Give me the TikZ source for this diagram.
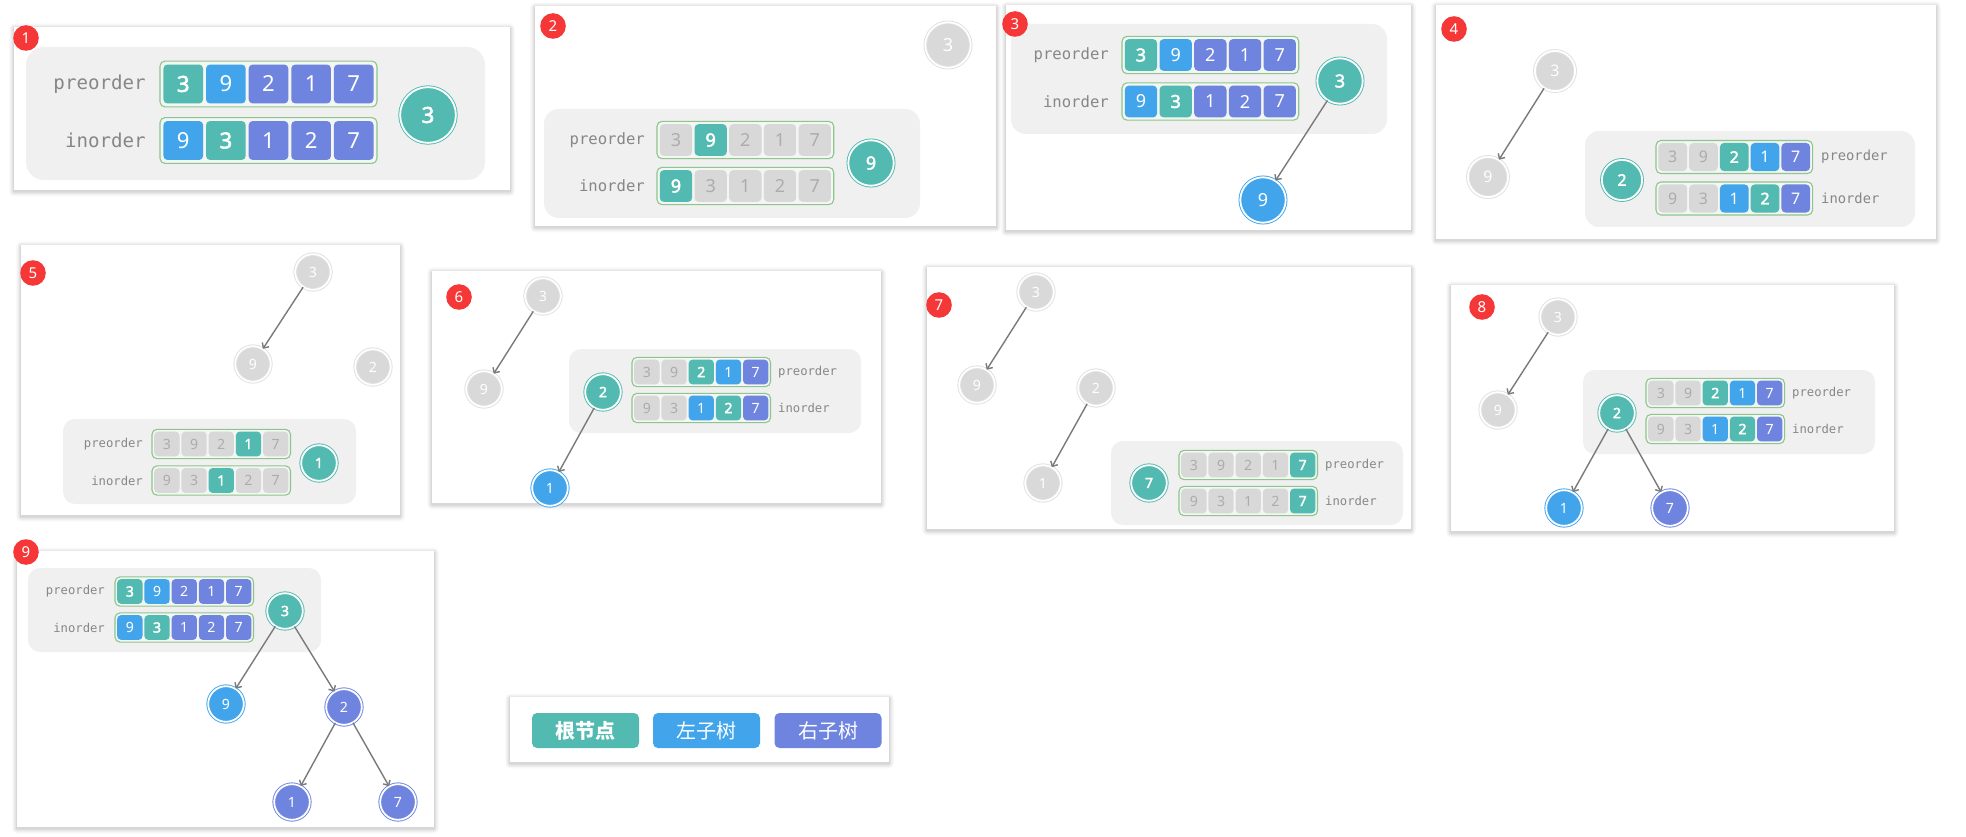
\documentclass[tikz,border=0pt]{standalone}
\usepackage{fontspec}
\setmainfont{Noto Sans}
\newfontfamily\nbf{Noto Sans}[FakeBold=2.5]
\newfontfamily\monof{DejaVu Sans Mono}
\newfontfamily\cjk{Noto Sans CJK SC}
\usetikzlibrary{arrows.meta}
\definecolor{cT}{RGB}{82,186,176}
\definecolor{cB}{RGB}{66,165,235}
\definecolor{cP}{RGB}{111,132,222}
\definecolor{cGc}{RGB}{216,216,216}
\definecolor{cGt}{RGB}{172,172,172}
\definecolor{cGn}{RGB}{217,217,217}
\definecolor{cGr}{RGB}{224,224,224}
\definecolor{cBg}{RGB}{240,240,240}
\definecolor{cGreen}{RGB}{140,198,140}
\definecolor{cBoxF}{RGB}{243,246,243}
\definecolor{cLbl}{RGB}{135,135,135}
\definecolor{cR}{RGB}{245,55,55}
\definecolor{cA}{RGB}{122,122,122}
\newcommand\numf{\fontsize{18}{18}\selectfont}
\newcommand\pnl[4]{%
 \foreach \d/\o in {5/0.02,4/0.025,3/0.03,2/0.04,1/0.05}{\fill[black,opacity=\o,rounded corners=\d pt] ({#1-\d},{#2-\d+1.5}) rectangle ({#3+\d},{#4+\d+1.5});}
 \fill[white] (#1,#2) rectangle (#3,#4);}
\newcommand\arr[5]{\begin{scope}[shift={(#2,#3)},scale=#4,transform shape]
 \node[abox] (#1) at (88.35,0) {};
 \foreach \st/\tx [count=\i] in {#5}{\node[\st] (#1-\i) at ({-15.75+34.7*\i},0) {\tx};}
 \end{scope}}
\newcommand\tn[6]{\begin{scope}[shift={(#2,#3)},scale=#4,transform shape]\node[#5] (#1) at (0,0) {#6};\end{scope}}
\newcommand\lb[6]{\begin{scope}[shift={(#2,#3)},scale=#4,transform shape]\node[lbl,anchor=#5] (#1) at (0,0) {#6};\end{scope}}
\begin{document}
\begin{tikzpicture}[x=1pt,y=-1pt,
 cellb/.style={rounded corners=4pt, minimum width=32.3pt, minimum height=31.7pt, inner sep=0pt, text=white, font=\numf},
 ct/.style={cellb, fill=cT, font=\nbf\numf},
 cb/.style={cellb, fill=cB},
 cp/.style={cellb, fill=cP},
 cg/.style={cellb, fill=cGc, text=cGt},
 abox/.style={draw=cGreen, line width=1.1pt, fill=cBoxF, rounded corners=5pt, minimum width=176.7pt, minimum height=37.3pt, inner sep=0pt},
 nd/.style={circle, inner sep=0pt, minimum size=45.4pt, line width=0.9pt, double distance=1.8pt, double=white, text=white, font=\numf},
 nt/.style={nd, fill=cT, draw=cT, font=\nbf\numf},
 nb/.style={nd, fill=cB, draw=cB},
 np/.style={nd, fill=cP, draw=cP},
 ng/.style={nd, fill=cGn, draw=cGr},
 lbl/.style={inner sep=0pt, text=cLbl, font=\monof\fontsize{15.6}{16}\selectfont},
 badge/.style={circle, fill=cR, text=white, minimum size=25.6pt, inner sep=0pt, font=\fontsize{15}{15}\selectfont},
 arw/.style={draw=cA, line width=1.4pt, -{Straight Barb[length=4pt,width=8pt]}},
 bgbox/.style={fill=cBg, rounded corners=#1},
 btn/.style={rounded corners=5pt, minimum width=107pt, minimum height=35pt, inner sep=0pt, text=white, font=\cjk\fontsize{20}{20}\selectfont}
]
\useasboundingbox (0,0) rectangle (1966,837);
% panel frames
\pnl{14}{27}{510}{190}
\pnl{535}{6}{996}{226}
\pnl{1006}{5}{1411}{230}
\pnl{1436}{5}{1936}{239}
\pnl{21}{245}{400}{515}
\pnl{432}{271}{881}{503}
\pnl{927}{267}{1411}{529}
\pnl{1451}{285}{1894}{531}
\pnl{17}{551}{434}{827}
\pnl{510}{697}{889}{762}

% ---------- panel 1
\fill[bgbox=18pt] (26,47) rectangle (485,180);
\lb{p1lp}{146}{84}{1.228}{east}{preorder}
\lb{p1li}{146}{140.5}{1.228}{east}{inorder}
\arr{p1a}{160}{84}{1.228}{ct/3,cb/9,cp/2,cp/1,cp/7}
\arr{p1b}{160}{140.5}{1.228}{cb/9,ct/3,cp/1,cp/2,cp/7}
\tn{p1n3}{428}{115}{1.228}{nt}{3}
\node[badge] (b1) at (26,38) {1};

% ---------- panel 2
\tn{p2n3}{948}{45}{1}{ng}{3}
\fill[bgbox=15pt] (544,109) rectangle (920,218);
\lb{p2lp}{645}{140}{1}{east}{preorder}
\lb{p2li}{645}{186}{1}{east}{inorder}
\arr{p2a}{657}{140}{1}{cg/3,ct/9,cg/2,cg/1,cg/7}
\arr{p2b}{657}{186}{1}{ct/9,cg/3,cg/1,cg/2,cg/7}
\tn{p2n9}{871}{163}{1}{nt}{9}
\node[badge] (b2) at (553,26) {2};

% ---------- panel 3
\fill[bgbox=15pt] (1011,24) rectangle (1387,134);
\lb{p3lp}{1109}{55}{1}{east}{preorder}
\lb{p3li}{1109}{101.5}{1}{east}{inorder}
\arr{p3a}{1122}{55}{1}{ct/3,cb/9,cp/2,cp/1,cp/7}
\arr{p3b}{1122}{101.5}{1}{cb/9,ct/3,cp/1,cp/2,cp/7}
\tn{p3n3}{1340}{81}{1}{nt}{3}
\tn{p3n9}{1263}{200}{1}{nb}{9}
\draw[arw] (p3n3) -- (p3n9);
\node[badge] (b3) at (1015,24) {3};

% ---------- panel 4
\tn{p4n3}{1555}{71}{0.886}{ng}{3}
\tn{p4n9}{1488}{177}{0.886}{ng}{9}
\draw[arw] (p4n3) -- (p4n9);
\fill[bgbox=14pt] (1585,131) rectangle (1915,227);
\tn{p4n2}{1622}{180}{0.886}{nt}{2}
\arr{p4a}{1656}{157}{0.886}{cg/3,cg/9,ct/2,cb/1,cp/7}
\arr{p4b}{1656}{198.5}{0.886}{cg/9,cg/3,cb/1,ct/2,cp/7}
\lb{p4lp}{1821}{157}{0.886}{west}{preorder}
\lb{p4li}{1821}{198.5}{0.886}{west}{inorder}
\node[badge] (b4) at (1454,29) {4};

% ---------- panel 5
\tn{p5n3}{313}{272}{0.784}{ng}{3}
\tn{p5n9}{253}{364}{0.784}{ng}{9}
\tn{p5n2}{373}{367}{0.784}{ng}{2}
\draw[arw] (p5n3) -- (p5n9);
\fill[bgbox=12pt] (63,419) rectangle (356,504);
\lb{p5lp}{143}{444}{0.784}{east}{preorder}
\lb{p5li}{143}{480.5}{0.784}{east}{inorder}
\arr{p5a}{152}{444}{0.784}{cg/3,cg/9,cg/2,ct/1,cg/7}
\arr{p5b}{152}{480.5}{0.784}{cg/9,cg/3,ct/1,cg/2,cg/7}
\tn{p5n1}{319}{463}{0.784}{nt}{1}
\node[badge] (b5) at (33,273) {5};

% ---------- panel 6
\tn{p6n3}{543}{296}{0.784}{ng}{3}
\tn{p6n9}{484}{389}{0.784}{ng}{9}
\draw[arw] (p6n3) -- (p6n9);
\fill[bgbox=12pt] (569,349) rectangle (861,433);
\tn{p6n2}{603}{392}{0.784}{nt}{2}
\arr{p6a}{632}{372}{0.784}{cg/3,cg/9,ct/2,cb/1,cp/7}
\arr{p6b}{632}{408}{0.784}{cg/9,cg/3,cb/1,ct/2,cp/7}
\lb{p6lp}{778}{372}{0.784}{west}{preorder}
\lb{p6li}{778}{408}{0.784}{west}{inorder}
\tn{p6n1}{550}{488}{0.784}{nb}{1}
\draw[arw] (p6n2) -- (p6n1);
\node[badge] (b6) at (459,297) {6};

% ---------- panel 7
\tn{p7n3}{1036}{292}{0.784}{ng}{3}
\tn{p7n9}{977}{385}{0.784}{ng}{9}
\tn{p7n2}{1096}{388}{0.784}{ng}{2}
\tn{p7n1}{1043}{483}{0.784}{ng}{1}
\draw[arw] (p7n3) -- (p7n9);
\draw[arw] (p7n2) -- (p7n1);
\fill[bgbox=12pt] (1111,441) rectangle (1403,525);
\tn{p7n7}{1149}{483}{0.784}{nt}{7}
\arr{p7a}{1179}{465}{0.784}{cg/3,cg/9,cg/2,cg/1,ct/7}
\arr{p7b}{1179}{501}{0.784}{cg/9,cg/3,cg/1,cg/2,ct/7}
\lb{p7lp}{1325}{465}{0.784}{west}{preorder}
\lb{p7li}{1325}{501}{0.784}{west}{inorder}
\node[badge] (b7) at (939,305) {7};

% ---------- panel 8
\tn{p8n3}{1558}{317}{0.784}{ng}{3}
\tn{p8n9}{1498}{410}{0.784}{ng}{9}
\draw[arw] (p8n3) -- (p8n9);
\fill[bgbox=12pt] (1583,370) rectangle (1875,454);
\tn{p8n2}{1617}{413}{0.784}{nt}{2}
\arr{p8a}{1646}{393}{0.784}{cg/3,cg/9,ct/2,cb/1,cp/7}
\arr{p8b}{1646}{429}{0.784}{cg/9,cg/3,cb/1,ct/2,cp/7}
\lb{p8lp}{1792}{393}{0.784}{west}{preorder}
\lb{p8li}{1792}{429}{0.784}{west}{inorder}
\tn{p8n1}{1564}{508}{0.784}{nb}{1}
\tn{p8n7}{1670}{508}{0.784}{np}{7}
\draw[arw] (p8n2) -- (p8n1);
\draw[arw] (p8n2) -- (p8n7);
\node[badge] (b8) at (1482,307) {8};

% ---------- panel 9
\fill[bgbox=12pt] (28,568) rectangle (321,652);
\lb{p9lp}{105}{591.5}{0.784}{east}{preorder}
\lb{p9li}{105}{627.5}{0.784}{east}{inorder}
\arr{p9a}{115}{591.5}{0.784}{ct/3,cb/9,cp/2,cp/1,cp/7}
\arr{p9b}{115}{627.5}{0.784}{cb/9,ct/3,cp/1,cp/2,cp/7}
\tn{p9n3}{285}{611}{0.784}{nt}{3}
\tn{p9n9}{226}{704}{0.784}{nb}{9}
\tn{p9n2}{344}{707}{0.784}{np}{2}
\tn{p9n1}{292}{802}{0.784}{np}{1}
\tn{p9n7}{398}{802}{0.784}{np}{7}
\draw[arw] (p9n3) -- (p9n9);
\draw[arw] (p9n3) -- (p9n2);
\draw[arw] (p9n2) -- (p9n1);
\draw[arw] (p9n2) -- (p9n7);
\node[badge] (b9) at (26,552) {9};

% ---------- legend
\node[btn, fill=cT, font=\cjk\fontsize{20}{20}\selectfont\bfseries] (lg1) at (585.5,730.5) {根节点};
\node[btn, fill=cB] (lg2) at (706.5,730.5) {左子树};
\node[btn, fill=cP] (lg3) at (828,730.5) {右子树};
\end{tikzpicture}
\end{document}
